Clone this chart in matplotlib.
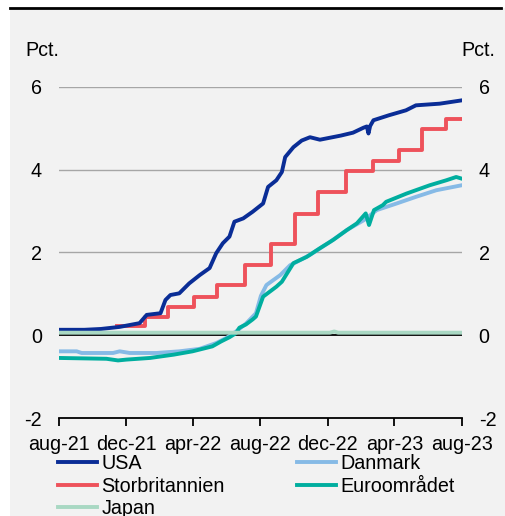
import matplotlib
matplotlib.use("Agg")
import matplotlib.pyplot as plt
from matplotlib.patches import Rectangle
from matplotlib.lines import Line2D
import pandas as pd

plt.rcParams['font.family'] = ['Liberation Sans', 'DejaVu Sans']

# ---- data ----
usa_dates = ["2021-08-01", "2021-09-16", "2021-10-16", "2021-11-19", "2021-12-25", "2022-01-07",
             "2022-02-01", "2022-02-10", "2022-02-19", "2022-03-07", "2022-03-25", "2022-04-13",
             "2022-05-01", "2022-05-13", "2022-05-25", "2022-06-06", "2022-06-15", "2022-07-01",
             "2022-07-18", "2022-08-06", "2022-08-15", "2022-08-30", "2022-09-09", "2022-09-15",
             "2022-09-30", "2022-10-15", "2022-10-30", "2022-11-17", "2022-12-25", "2023-01-16",
             "2023-02-04", "2023-02-10", "2023-02-13", "2023-02-16", "2023-02-22", "2023-03-22",
             "2023-04-22", "2023-05-10", "2023-06-22", "2023-08-01"]
usa_vals = [0.13, 0.13, 0.15, 0.20, 0.29, 0.49,
            0.53, 0.85, 0.97, 1.01, 1.25, 1.45,
            1.62, 1.98, 2.22, 2.38, 2.74, 2.82,
            2.98, 3.18, 3.58, 3.74, 3.94, 4.30,
            4.54, 4.70, 4.78, 4.72, 4.82, 4.89,
            5.01, 5.04, 4.87, 5.05, 5.19, 5.31,
            5.43, 5.55, 5.59, 5.67]

uk_dates = ["2021-11-15", "2022-01-04", "2022-02-15", "2022-04-03", "2022-05-15", "2022-07-04",
            "2022-08-21", "2022-10-02", "2022-11-14", "2023-01-03", "2023-02-21", "2023-04-09",
            "2023-05-21", "2023-07-03", "2023-08-01"]
uk_vals = [0.21, 0.45, 0.69, 0.93, 1.21, 1.69,
           2.20, 2.92, 3.45, 3.96, 4.21, 4.47,
           4.98, 5.22, 5.22]

dk_dates = ["2021-08-01", "2021-09-02", "2021-09-11", "2021-11-07", "2021-11-19", "2021-12-07",
            "2022-01-25", "2022-03-07", "2022-04-13", "2022-05-13", "2022-05-31", "2022-06-18",
            "2022-07-06", "2022-07-24", "2022-08-02", "2022-08-12", "2022-09-06", "2022-09-24",
            "2022-10-06", "2022-10-30", "2022-12-05", "2023-01-05", "2023-02-05", "2023-02-28",
            "2023-04-05", "2023-05-10", "2023-06-16", "2023-08-01"]
dk_vals = [-0.39, -0.39, -0.43, -0.43, -0.39, -0.43,
           -0.43, -0.39, -0.33, -0.19, -0.07, 0.09,
           0.28, 0.53, 0.95, 1.21, 1.45, 1.69,
           1.77, 1.94, 2.25, 2.54, 2.78, 3.02,
           3.18, 3.34, 3.50, 3.62]

eu_dates = ["2021-08-01", "2021-10-26", "2021-11-16", "2021-12-01", "2022-01-13", "2022-02-25",
            "2022-03-31", "2022-05-06", "2022-05-22", "2022-06-06", "2022-06-18", "2022-06-24",
            "2022-07-06", "2022-07-18", "2022-07-24", "2022-08-06", "2022-08-30", "2022-09-09",
            "2022-09-30", "2022-10-24", "2022-11-17", "2022-12-11", "2023-01-05", "2023-01-23",
            "2023-02-08", "2023-02-14", "2023-02-23", "2023-03-11", "2023-03-17", "2023-04-23",
            "2023-06-04", "2023-07-04", "2023-07-22", "2023-08-01"]
eu_vals = [-0.55, -0.57, -0.61, -0.59, -0.55, -0.47,
           -0.39, -0.27, -0.15, -0.05, 0.05, 0.18,
           0.26, 0.38, 0.45, 0.93, 1.17, 1.29,
           1.74, 1.89, 2.10, 2.30, 2.54, 2.70,
           2.94, 2.66, 3.02, 3.14, 3.22, 3.42,
           3.62, 3.74, 3.82, 3.78]

jp_dates = ["2021-08-01", "2022-06-01", "2022-12-05", "2022-12-13", "2022-12-20", "2023-08-01"]
jp_vals = [0.06, 0.06, 0.06, 0.09, 0.06, 0.06]

x_ticks = ["2021-08-01", "2021-12-01", "2022-04-01", "2022-08-01", "2022-12-01", "2023-04-01", "2023-08-01"]
x_tick_labels = ["aug-21", "dec-21", "apr-22", "aug-22", "dec-22", "apr-23", "aug-23"]
y_ticks = [-2, 0, 2, 4, 6]

# ---- styling ----
W, H = 506, 516
fig = plt.figure(figsize=(W / 100, H / 100), dpi=100)
fig.patch.set_facecolor("white")
bg = "#f2f2f2"
fig.patches.append(Rectangle((10 / W, 0), (W - 10) / W, 1 - 8 / H, transform=fig.transFigure,
                             facecolor=bg, edgecolor="none", zorder=-10))
fig.lines.append(Line2D([10 / W, 501 / W], [1 - 8 / H, 1 - 8 / H], transform=fig.transFigure,
                        color="black", linewidth=2.0))

ax = fig.add_axes([59 / W, 1 - 418 / H, (461.7 - 59) / W, (418 - 86.7) / H])
ax.set_facecolor("none")

lw = 2.8
series = [
    ("USA", usa_dates, usa_vals, "#0a2d96", None),
    ("Storbritannien", uk_dates, uk_vals, "#ee525b", "steps-post"),
    ("Japan", jp_dates, jp_vals, "#a9d8c3", None),
    ("Danmark", dk_dates, dk_vals, "#86bae6", None),
    ("Euroområdet", eu_dates, eu_vals, "#00ae9f", None),
]
handles = {}
zorders = {"Danmark": 3, "Euroområdet": 4, "Storbritannien": 5, "USA": 6, "Japan": 7}
for name, d, v, c, ds in series:
    kw = {}
    if ds:
        kw["drawstyle"] = ds
    h, = ax.plot(pd.to_datetime(d), v, color=c, linewidth=lw, label=name,
                 zorder=zorders[name], solid_joinstyle="round", **kw)
    handles[name] = h

ax.set_xlim(pd.Timestamp(x_ticks[0]), pd.Timestamp(x_ticks[-1]))
ax.set_ylim(-2, 6)
ax.set_yticks(y_ticks)
ax.set_yticklabels([str(t) for t in y_ticks])
ax.set_xticks(pd.to_datetime(x_ticks))
ax.set_xticklabels(x_tick_labels)

for yv in [2, 4, 6]:
    ax.axhline(yv, color="#a6a6a6", linewidth=1.0, zorder=1)
ax.axhline(0, color="black", linewidth=1.3, zorder=2)

for s in ["top", "left", "right"]:
    ax.spines[s].set_visible(False)
ax.spines["bottom"].set_color("black")
ax.spines["bottom"].set_linewidth(1.3)

ax.tick_params(axis="x", direction="out", length=6, width=1.3, color="black",
               labelsize=14.2, pad=6)
ax.tick_params(axis="y", length=0, labelsize=14.2, pad=17 * 0.72,
               labelleft=True, labelright=True)

fig.text(25 / W, 1 - 50 / H, "Pct.", fontsize=14.2, ha="left", va="center")
fig.text(495 / W, 1 - 50 / H, "Pct.", fontsize=14.2, ha="right", va="center")

order = ["USA", "Storbritannien", "Japan", "Danmark", "Euroområdet"]
leg = fig.legend([handles[n] for n in order], order, ncol=2, loc="upper left",
                 bbox_to_anchor=(58 / W, 1 - 454 / H), frameon=False, fontsize=14.2,
                 handlelength=2.0, handletextpad=0.2, columnspacing=3.65,
                 labelspacing=0.18, borderpad=0, borderaxespad=0)

fig.savefig("out.png", dpi=100, facecolor=fig.get_facecolor())
